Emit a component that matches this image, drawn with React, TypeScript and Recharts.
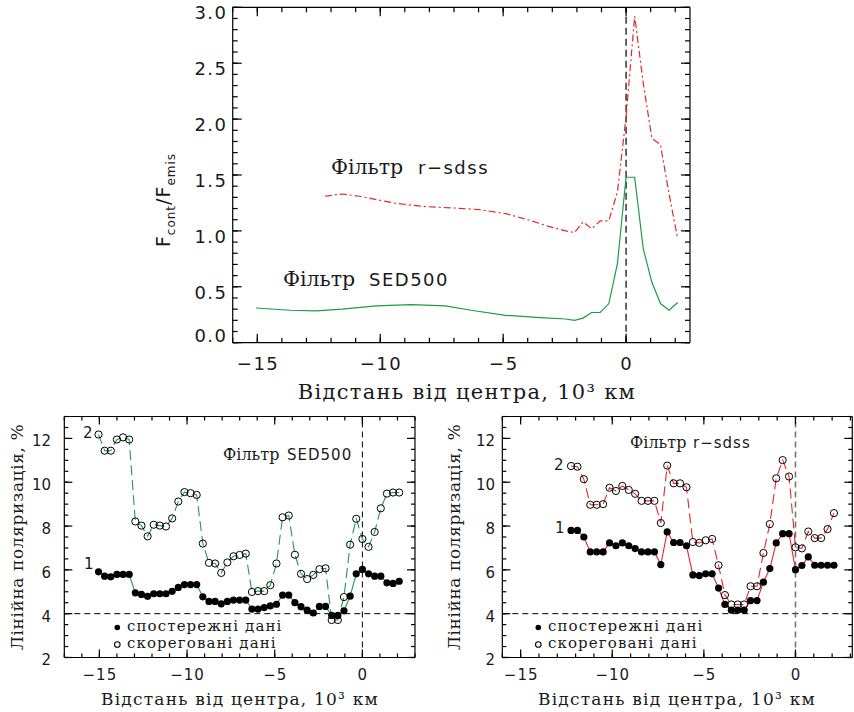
import React from 'react';
import { LineChart, Line, XAxis, YAxis, ReferenceLine } from 'recharts';

// ---------- top panel: Fcont/Femis ----------
const TOP_SED_X = [-15.05, -13.65, -12.6, -11.55, -10.15, -8.75, -7.35, -6.3, -4.9, -3.5, -2.45, -2.1, -1.75, -1.4, -1.05, -0.7, -0.35, 0, 0.35, 0.7, 1.05, 1.4, 1.75, 2.1];
const TOP_SED_V = [0.31, 0.29, 0.285, 0.3, 0.33, 0.34, 0.33, 0.29, 0.245, 0.225, 0.212, 0.2, 0.22, 0.27, 0.27, 0.35, 0.71, 1.48, 1.48, 0.84, 0.54, 0.35, 0.29, 0.36];
const TOP_R_X = [-12.25, -11.55, -10.85, -10.15, -9.45, -8.75, -8.05, -7.0, -5.95, -4.9, -3.85, -3.15, -2.45, -2.1, -1.75, -1.4, -1.05, -0.7, -0.35, 0, 0.35, 0.7, 1.05, 1.4, 1.75, 2.1];
const TOP_R_V = [1.31, 1.33, 1.31, 1.28, 1.25, 1.23, 1.216, 1.205, 1.19, 1.155, 1.09, 1.04, 1.0, 0.985, 1.08, 1.02, 1.09, 1.09, 1.35, 2.02, 2.92, 2.32, 1.83, 1.77, 1.33, 0.93];

// ---------- bottom left: SED500 ----------
const LEFT_X = [-15.05, -14.7, -14.35, -14.0, -13.65, -13.3, -12.95, -12.6, -12.25, -11.9, -11.55, -11.2, -10.85, -10.5, -10.15, -9.8, -9.45, -9.1, -8.75, -8.4, -8.05, -7.7, -7.35, -7.0, -6.65, -6.3, -5.95, -5.6, -5.25, -4.9, -4.55, -4.2, -3.85, -3.5, -3.15, -2.8, -2.45, -2.1, -1.75, -1.4, -1.05, -0.7, -0.35, 0.0, 0.35, 0.7, 1.05, 1.4, 1.75, 2.1];
const LEFT_OBS = [5.91, 5.71, 5.68, 5.79, 5.79, 5.79, 4.95, 4.88, 4.79, 4.91, 4.91, 4.91, 5.02, 5.2, 5.33, 5.33, 5.33, 4.77, 4.56, 4.56, 4.45, 4.56, 4.62, 4.62, 4.62, 4.21, 4.21, 4.28, 4.36, 4.43, 4.85, 4.85, 4.5, 4.32, 4.16, 4.03, 4.33, 4.33, 3.92, 3.92, 4.13, 4.8, 5.82, 6.02, 5.82, 5.71, 5.71, 5.41, 5.38, 5.48];
const LEFT_COR = [12.18, 11.44, 11.44, 11.95, 12.05, 11.95, 8.21, 8.02, 7.53, 8.06, 8.02, 7.98, 8.35, 9.12, 9.55, 9.5, 9.42, 7.2, 6.32, 6.29, 5.86, 6.34, 6.62, 6.68, 6.74, 4.99, 5.03, 5.03, 5.3, 6.29, 8.4, 8.48, 6.69, 5.82, 5.58, 5.77, 6.03, 6.07, 3.71, 3.71, 4.76, 7.15, 8.33, 7.41, 7.05, 7.73, 8.81, 9.48, 9.53, 9.53];

// ---------- bottom right: r-sdss ----------
const RIGHT_X = [-12.25, -11.9, -11.55, -11.2, -10.85, -10.5, -10.15, -9.8, -9.45, -9.1, -8.75, -8.4, -8.05, -7.7, -7.35, -7.0, -6.65, -6.3, -5.95, -5.6, -5.25, -4.9, -4.55, -4.2, -3.85, -3.5, -3.15, -2.8, -2.45, -2.1, -1.75, -1.4, -1.05, -0.7, -0.35, 0.0, 0.35, 0.7, 1.05, 1.4, 1.75, 2.1];
const RIGHT_OBS = [7.8, 7.8, 7.5, 6.82, 6.82, 6.82, 7.23, 7.1, 7.23, 7.1, 6.97, 6.82, 6.82, 6.82, 6.24, 7.73, 7.25, 7.25, 7.1, 5.77, 5.74, 5.82, 5.82, 5.17, 4.42, 4.16, 4.16, 4.16, 4.6, 4.6, 5.44, 6.06, 7.23, 7.65, 7.65, 6.01, 6.2, 6.59, 6.21, 6.21, 6.21, 6.21];
const RIGHT_COR = [10.74, 10.71, 10.14, 8.97, 8.97, 9.0, 9.75, 9.6, 9.83, 9.65, 9.47, 9.15, 9.15, 9.15, 8.14, 10.76, 9.95, 9.95, 9.77, 7.27, 7.23, 7.35, 7.41, 6.21, 4.85, 4.42, 4.42, 4.42, 5.25, 5.25, 6.77, 8.09, 10.18, 11.01, 10.26, 7.03, 6.98, 7.75, 7.45, 7.45, 7.86, 8.59];

// ---------- ticks ----------
const TOP_X_MAJOR = [-15, -10, -5, 0];
const TOP_X_MINOR = [-16, -15, -14, -13, -12, -11, -10, -9, -8, -7, -6, -5, -4, -3, -2, -1, 0, 1, 2];
const TOP_Y_MAJOR = [0, 0.5, 1, 1.5, 2, 2.5, 3];
const TOP_Y_MINOR = [0, 0.1, 0.2, 0.3, 0.4, 0.5, 0.6, 0.7, 0.8, 0.9, 1, 1.1, 1.2, 1.3, 1.4, 1.5, 1.6, 1.7, 1.8, 1.9, 2, 2.1, 2.2, 2.3, 2.4, 2.5, 2.6, 2.7, 2.8, 2.9, 3];
const BOT_X_MAJOR = [-15, -10, -5, 0];
const LEFT_X_MINOR = [-17, -16, -15, -14, -13, -12, -11, -10, -9, -8, -7, -6, -5, -4, -3, -2, -1, 0, 1, 2, 3];
const RIGHT_X_MINOR = [-16, -15, -14, -13, -12, -11, -10, -9, -8, -7, -6, -5, -4, -3, -2, -1, 0, 1, 2, 3];
const BOT_Y_MAJOR = [2, 4, 6, 8, 10, 12];
const BOT_Y_MINOR = [2, 2.5, 3, 3.5, 4, 4.5, 5, 5.5, 6, 6.5, 7, 7.5, 8, 8.5, 9, 9.5, 10, 10.5, 11, 11.5, 12, 12.5, 13];

const rows = (xs: number[], vs: number[]) => xs.map((x, i) => ({ x, v: vs[i] }));

const GREEN = '#1e9a48';
const RED = '#e2262b';
const SANS = "'DejaVu Sans', sans-serif";
const SERIF = "'DejaVu Serif', serif";
const INK = '#1a1a1a';
const THIN = 0.01;

const fmtInt = (v: number) => (v < 0 ? '\u2212' + Math.abs(v) : String(v));

const NoTick = () => <g />;

const makeXTick = (size: number, ls: number) => (p: any) => (
  <text x={p.x + ls / 2} y={p.y} dy="0.72em" textAnchor="middle" fontFamily={SANS} fontSize={size} letterSpacing={ls} fill={INK}>
    {fmtInt(p.payload.value)}
  </text>
);

const topYTick = (p: any) => {
  const v = p.payload.value;
  const off = v === 0 ? -7.5 : 5.5;
  return (
    <text x={p.x + 1.5} y={p.y + off} dy="0.36em" textAnchor="end" fontFamily={SANS} fontSize={18} letterSpacing={1.5} fill={INK}>
      {v.toFixed(1)}
    </text>
  );
};

const botYTick = (p: any) => (
  <text x={p.x} y={p.y + 2.5} dy="0.36em" textAnchor="end" fontFamily={SANS} fontSize={15} fill={INK}>
    {String(p.payload.value)}
  </text>
);

function frameAxes(o: any) {
  const c = { type: 'number' as const, allowDataOverflow: true, interval: 0 as const, stroke: '#000', dataKey: 'x' };
  const cy = { type: 'number' as const, allowDataOverflow: true, interval: 0 as const, stroke: '#000' };
  const line = { stroke: '#000', strokeWidth: 1.2 };
  return [
    <XAxis key="xbm" xAxisId="bm" orientation="bottom" domain={o.xd} ticks={o.xMinor} height={THIN} tickSize={-o.min} tick={NoTick} axisLine={false} tickLine={line} {...c} />,
    <XAxis key="xb" xAxisId="b" orientation="bottom" domain={o.xd} ticks={o.xMajor} height={THIN} tickSize={-o.maj} tickMargin={o.xtm} tick={o.xTick} axisLine={line} tickLine={line} {...c} />,
    <XAxis key="xtm" xAxisId="tm" orientation="top" domain={o.xd} ticks={o.xMinor} height={THIN} tickSize={-o.min} tick={NoTick} axisLine={false} tickLine={line} {...c} />,
    <XAxis key="xt" xAxisId="t" orientation="top" domain={o.xd} ticks={o.xMajor} height={THIN} tickSize={-o.maj} tick={NoTick} axisLine={line} tickLine={line} {...c} />,
    <YAxis key="ylm" yAxisId="lm" orientation="left" domain={o.yd} ticks={o.yMinor} width={THIN} tickSize={-o.min} tick={NoTick} axisLine={false} tickLine={line} {...cy} />,
    <YAxis key="yl" yAxisId="l" orientation="left" domain={o.yd} ticks={o.yMajor} width={THIN} tickSize={-o.maj} tickMargin={o.ytm} tick={o.yTick} axisLine={line} tickLine={line} {...cy} />,
    <YAxis key="yrm" yAxisId="rm" orientation="right" domain={o.yd} ticks={o.yMinor} width={THIN} tickSize={-o.min} tick={NoTick} axisLine={false} tickLine={line} {...cy} />,
    <YAxis key="yr" yAxisId="r" orientation="right" domain={o.yd} ticks={o.yMajor} width={THIN} tickSize={-o.maj} tick={NoTick} axisLine={line} tickLine={line} {...cy} />,
  ];
}

const filledDot = (p: any) => <circle key={'f' + p.index} cx={p.cx} cy={p.cy} r={3.6} fill="#000" stroke="none" />;
const openDot = (p: any) => <circle key={'o' + p.index} cx={p.cx} cy={p.cy} r={3.6} fill="none" stroke="#000" strokeWidth={1} />;

function TopChart() {
  return (
    <LineChart width={854} height={420} margin={{ top: 7.3, left: 232.7, right: 164, bottom: 77.3 }}>
      {frameAxes({ xd: [-16, 2.6], yd: [0, 3], xMajor: TOP_X_MAJOR, xMinor: TOP_X_MINOR, yMajor: TOP_Y_MAJOR, yMinor: TOP_Y_MINOR, maj: 9, min: 5, xtm: 23, ytm: 15.7, xTick: makeXTick(18, 1.5), yTick: topYTick })}
      <ReferenceLine xAxisId="b" yAxisId="l" x={0} stroke="#000" strokeWidth={1.2} strokeDasharray="7 4" />
      <Line xAxisId="b" yAxisId="l" data={rows(TOP_R_X, TOP_R_V)} dataKey="v" type="linear" stroke={RED} strokeWidth={1.2} strokeDasharray="7 3 2 3" dot={false} isAnimationActive={false} />
      <Line xAxisId="b" yAxisId="l" data={rows(TOP_SED_X, TOP_SED_V)} dataKey="v" type="linear" stroke={GREEN} strokeWidth={1.2} dot={false} isAnimationActive={false} />
    </LineChart>
  );
}

function BottomChart(props: any) {
  const { xs, obs, cor, color, xd, xMinor, ml, mr, ytm, vColor, vWidth } = props;
  return (
    <LineChart width={props.w} height={312} margin={{ top: 16.5, left: ml, right: mr, bottom: 54.5 }}>
      {frameAxes({ xd, yd: [2, 13], xMajor: BOT_X_MAJOR, xMinor, yMajor: BOT_Y_MAJOR, yMinor: BOT_Y_MINOR, maj: 8, min: 4, xtm: 19.5, ytm, xTick: makeXTick(15, 1), yTick: botYTick })}
      <ReferenceLine xAxisId="b" yAxisId="l" y={4} stroke="#000" strokeWidth={1} strokeDasharray="6 4" />
      <ReferenceLine xAxisId="b" yAxisId="l" x={0} stroke={vColor} strokeWidth={vWidth} strokeDasharray="6 4" />
      <Line xAxisId="b" yAxisId="l" data={rows(xs, cor)} dataKey="v" type="linear" stroke={color} strokeWidth={1.1} strokeDasharray="10 5" dot={openDot} isAnimationActive={false} />
      <Line xAxisId="b" yAxisId="l" data={rows(xs, obs)} dataKey="v" type="linear" stroke={color} strokeWidth={1.1} dot={filledDot} isAnimationActive={false} />
    </LineChart>
  );
}

function Overlay() {
  const t = { fill: INK };
  return (
    <svg width={854} height={712} style={{ position: 'absolute', left: 0, top: 0, pointerEvents: 'none' }}>
      {/* top panel */}
      <text transform="rotate(-90 170 200)" x={170} y={200} textAnchor="middle" fontFamily={SANS} fontSize={19} letterSpacing={1} {...t}>
        F<tspan fontSize={12} dy={5}>cont</tspan><tspan dy={-5}>/F</tspan><tspan fontSize={12} dy={5}>emis</tspan>
      </text>
      <text x={467} y={399} textAnchor="middle" fontFamily={SERIF} fontSize={21} letterSpacing={1.3} {...t}>Відстань від центра, 10³ км</text>
      <text x={331} y={174} fontFamily={SERIF} fontSize={20.5} {...t}>Фільтр</text>
      <text x={418} y={174} fontFamily={SANS} fontSize={18} letterSpacing={1.5} {...t}>r−sdss</text>
      <text x={283} y={286} fontFamily={SERIF} fontSize={20.5} {...t}>Фільтр</text>
      <text x={369} y={286} fontFamily={SANS} fontSize={18} letterSpacing={1.5} {...t}>SED500</text>

      {/* bottom left */}
      <text transform="rotate(-90 23 537)" x={23} y={537} textAnchor="middle" fontFamily={SERIF} fontSize={17} letterSpacing={0.6} {...t}>Лінійна поляризація, %</text>
      <text x={240} y={705} textAnchor="middle" fontFamily={SERIF} fontSize={17} letterSpacing={1.2} {...t}>Відстань від центра, 10³ км</text>
      <text x={223} y={460} fontFamily={SERIF} fontSize={16} {...t}>Фільтр</text>
      <text x={287} y={460} fontFamily={SANS} fontSize={15} letterSpacing={1} {...t}>SED500</text>
      <text x={83} y={438} fontFamily={SANS} fontSize={15} {...t}>2</text>
      <text x={84} y={569} fontFamily={SANS} fontSize={15} {...t}>1</text>
      <circle cx={117.3} cy={627.5} r={2.8} fill="#000" />
      <circle cx={117.3} cy={644.5} r={2.8} fill="none" stroke="#000" strokeWidth={1.1} />
      <text x={127} y={631} fontFamily={SERIF} fontSize={15} letterSpacing={1.1} {...t}>спостережні дані</text>
      <text x={127} y={648} fontFamily={SERIF} fontSize={15} letterSpacing={1.1} {...t}>скореговані дані</text>

      {/* bottom right */}
      <text transform="rotate(-90 460 537)" x={460} y={537} textAnchor="middle" fontFamily={SERIF} fontSize={17} letterSpacing={0.6} {...t}>Лінійна поляризація, %</text>
      <text x={677} y={705} textAnchor="middle" fontFamily={SERIF} fontSize={17} letterSpacing={1.2} {...t}>Відстань від центра, 10³ км</text>
      <text x={630} y={448} fontFamily={SERIF} fontSize={16} {...t}>Фільтр</text>
      <text x={693} y={448} fontFamily={SANS} fontSize={15} letterSpacing={1} {...t}>r−sdss</text>
      <text x={554} y={470} fontFamily={SANS} fontSize={15} {...t}>2</text>
      <text x={555} y={533} fontFamily={SANS} fontSize={15} {...t}>1</text>
      <circle cx={538.3} cy={627.5} r={2.8} fill="#000" />
      <circle cx={538.3} cy={644.5} r={2.8} fill="none" stroke="#000" strokeWidth={1.1} />
      <text x={548} y={631} fontFamily={SERIF} fontSize={15} letterSpacing={1.1} {...t}>спостережні дані</text>
      <text x={548} y={648} fontFamily={SERIF} fontSize={15} letterSpacing={1.1} {...t}>скореговані дані</text>
    </svg>
  );
}

export default function App() {
  return (
    <div style={{ position: 'absolute', left: 0, top: 0, width: 854, height: 712, background: '#fff', overflow: 'hidden' }}>
      <div style={{ position: 'absolute', left: 0, top: 0 }}>
        <TopChart />
      </div>
      <div style={{ position: 'absolute', left: 0, top: 400 }}>
        <BottomChart w={430} xs={LEFT_X} obs={LEFT_OBS} cor={LEFT_COR} color={GREEN} xd={[-17, 3]} xMinor={LEFT_X_MINOR} ml={64.3} mr={15} ytm={21.3} vColor="#000" vWidth={1} />
      </div>
      <div style={{ position: 'absolute', left: 430, top: 400 }}>
        <BottomChart w={424} xs={RIGHT_X} obs={RIGHT_OBS} cor={RIGHT_COR} color={RED} xd={[-16, 3.1]} xMinor={RIGHT_X_MINOR} ml={72.3} mr={1.7} ytm={15.3} vColor="#777" vWidth={1.6} />
      </div>
      <Overlay />
    </div>
  );
}
